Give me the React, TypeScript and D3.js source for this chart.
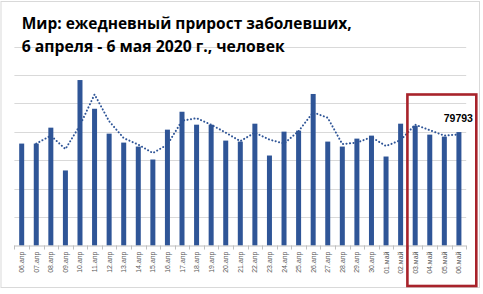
import React from "react";
import * as d3 from "d3";

const categories = [
  "06.апр","07.апр","08.апр","09.апр","10.апр","11.апр","12.апр","13.апр","14.апр","15.апр",
  "16.апр","17.апр","18.апр","19.апр","20.апр","21.апр","22.апр","23.апр","24.апр","25.апр",
  "26.апр","27.апр","28.апр","29.апр","30.апр","01.май","02.май","03.май","04.май","05.май","06.май",
];
const values = [
  71700, 71700, 82900, 52800, 116400, 96200, 78700, 72400, 69600, 60500,
  81500, 94100, 85000, 85000, 73800, 73100, 85700, 63300, 80100, 80800,
  106600, 73100, 69600, 75200, 77300, 62600, 85700, 84300, 78000, 76600, 79793,
];
const yTicks = [0, 20000, 40000, 60000, 80000, 100000, 120000, 140000];
const titleLines = ["Мир: ежедневный прирост заболевших,", "6 апреля - 6 мая 2020 г., человек"];
const highlightFrom = "03.май";
const lastLabel = "79793";

const W = 483, H = 294;
const plotLeft = 14.4, plotRight = 466.2, plotTop = 46.5, plotBottom = 245.5;
const BLUE = "#2F5597";

export default function App() {
  const x = d3.scaleBand().domain(categories).range([plotLeft, plotRight]).paddingInner(0).paddingOuter(0);
  const y = d3.scaleLinear().domain([0, 140000]).range([plotBottom, plotTop]);
  const bw = 5;
  const cx = (c: string) => (x(c) as number) + x.bandwidth() / 2;

  // 2-period moving average trendline
  const ma = values.slice(1).map((v, i) => ({ c: categories[i + 1], v: (v + values[i]) / 2 }));
  const line = d3.line<{ c: string; v: number }>().x(d => cx(d.c)).y(d => y(d.v));

  const hiX = (x(highlightFrom) as number) - 1;
  const lastC = categories[categories.length - 1];

  return (
    <svg width={W} height={H} style={{ position: "absolute", left: 0, top: 0, background: "#fff" }}>
      <rect x={0} y={0} width={W} height={H} fill="#fff" />
      <rect x={1} y={1.5} width={478.5} height={286} fill="none" stroke="#D9D9D9" strokeWidth={1} />
      {yTicks.slice(1).map(t => (
        <line key={t} x1={plotLeft} x2={plotRight} y1={Math.round(y(t)) + 0.5} y2={Math.round(y(t)) + 0.5} stroke="#D9D9D9" strokeWidth={1} />
      ))}
      {titleLines.map((t, i) => (
        <text key={i} x={21.7} y={i === 0 ? 29.3 : 51.7} fontFamily="'Open Sans', 'Liberation Sans', sans-serif" fontWeight={700} fontSize={16.5}
          fill="#000" textLength={i === 0 ? 330 : 263} lengthAdjust="spacingAndGlyphs">{t}</text>
      ))}
      {categories.map((c, i) => (
        <rect key={c} x={cx(c) - bw / 2} y={y(values[i])} width={bw} height={plotBottom - y(values[i])} fill={BLUE} />
      ))}
      <path d={line(ma) || ""} fill="none" stroke="#2F5597" strokeWidth={2} strokeDasharray="0.1 3.4" strokeLinecap="round" />
      <line x1={plotLeft} x2={plotRight} y1={plotBottom + 0.5} y2={plotBottom + 0.5} stroke="#BFBFBF" strokeWidth={1} />
      {categories.concat(["__end"]).map((c, i) => {
        const xx = c === "__end" ? plotRight : (x(c) as number);
        return <line key={"t" + i} x1={Math.round(xx) + 0.5} x2={Math.round(xx) + 0.5} y1={plotBottom} y2={plotBottom + 4} stroke="#BFBFBF" strokeWidth={1} />;
      })}
      {categories.map(c => (
        <text key={"l" + c} transform={`translate(${cx(c) + 2.5},${251.5}) rotate(-90)`} textAnchor="end"
          fontFamily="'Liberation Sans Narrow', 'Liberation Sans', sans-serif" fontSize={7} fill="#595959">{c}</text>
      ))}
      <text x={cx(lastC) + 14} y={122.3} textAnchor="end" fontFamily="'Liberation Sans', sans-serif" fontWeight={700} fontSize={10.5} fill="#000">{lastLabel}</text>
      <rect x={hiX + 0.5} y={94.5} width={476.3 - hiX - 0.5} height={191.5} fill="none" stroke="#A8232B" strokeWidth={2.6} />
    </svg>
  );
}
